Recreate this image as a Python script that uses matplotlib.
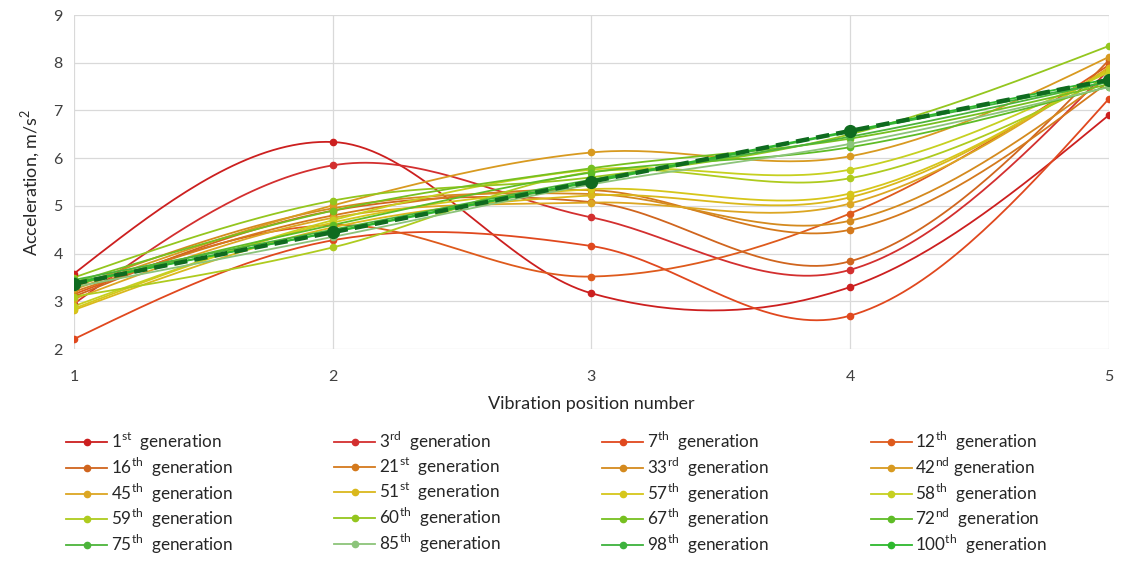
import matplotlib
matplotlib.use("Agg")
import matplotlib.pyplot as plt
from matplotlib.lines import Line2D
import numpy as np

plt.rcParams["font.family"] = ["Lato", "DejaVu Sans"]
plt.rcParams["mathtext.fontset"] = "custom"
plt.rcParams["mathtext.rm"] = "Lato"

# ── data ──────────────────────────────────────────────────────────────────
positions = [1, 2, 3, 4, 5]

labels = [
    "1$^{\\mathrm{st}}$  generation", "3$^{\\mathrm{rd}}$  generation",
    "7$^{\\mathrm{th}}$  generation", "12$^{\\mathrm{th}}$  generation",
    "16$^{\\mathrm{th}}$  generation", "21$^{\\mathrm{st}}$  generation",
    "33$^{\\mathrm{rd}}$  generation", "42$^{\\mathrm{nd}}$ generation",
    "45$^{\\mathrm{th}}$  generation", "51$^{\\mathrm{st}}$  generation",
    "57$^{\\mathrm{th}}$  generation", "58$^{\\mathrm{th}}$  generation",
    "59$^{\\mathrm{th}}$  generation", "60$^{\\mathrm{th}}$  generation",
    "67$^{\\mathrm{th}}$  generation", "72$^{\\mathrm{nd}}$  generation",
    "75$^{\\mathrm{th}}$  generation", "85$^{\\mathrm{th}}$  generation",
    "98$^{\\mathrm{th}}$  generation", "100$^{\\mathrm{th}}$  generation",
]

gen_1 = [3.58, 6.34, 3.17, 3.30, 6.90]
gen_3 = [2.95, 5.85, 4.76, 3.66, 7.85]
gen_7 = [2.21, 4.28, 4.16, 2.70, 7.24]
gen_12 = [3.15, 4.60, 3.52, 4.84, 7.95]
gen_16 = [3.10, 4.90, 5.08, 3.84, 8.05]
gen_21 = [3.20, 4.80, 5.33, 4.50, 7.60]
gen_33 = [3.30, 4.95, 5.25, 4.69, 7.70]
gen_42 = [3.25, 5.01, 6.12, 6.04, 8.12]
gen_45 = [3.05, 4.75, 5.07, 5.05, 7.90]
gen_51 = [2.82, 4.55, 5.22, 5.18, 7.88]
gen_57 = [2.85, 4.65, 5.35, 5.26, 7.85]
gen_58 = [2.90, 4.70, 5.76, 5.76, 7.80]
gen_59 = [3.10, 4.13, 5.71, 5.58, 7.70]
gen_60 = [3.50, 5.11, 5.60, 6.50, 8.35]
gen_67 = [3.40, 4.90, 5.79, 6.41, 7.55]
gen_72 = [3.35, 4.60, 5.70, 6.23, 7.50]
gen_75 = [3.45, 4.50, 5.55, 6.45, 7.60]
gen_85 = [3.30, 4.35, 5.45, 6.30, 7.49]
gen_98 = [3.40, 4.45, 5.50, 6.55, 7.60]
gen_100 = [3.38, 4.46, 5.52, 6.57, 7.66]
best = [3.37, 4.45, 5.51, 6.57, 7.64]

series = [gen_1, gen_3, gen_7, gen_12, gen_16, gen_21, gen_33, gen_42, gen_45,
          gen_51, gen_57, gen_58, gen_59, gen_60, gen_67, gen_72, gen_75,
          gen_85, gen_98, gen_100]

colors = ["#CC1F1F", "#D32F2F", "#E0481E", "#DE5A1C", "#D0651E", "#D4791C",
          "#D48A1E", "#D89A20", "#DCA622", "#DAB81C", "#D6C61A", "#C6D020",
          "#AECB1E", "#94C61E", "#76C020", "#5EBC26", "#4CB43A", "#8CC47A",
          "#3DB23D", "#2DB82D"]


def smooth(x, y, n=40):
    # cubic Hermite through points, Catmull-Rom tangents, natural ends
    x = np.asarray(x, float)
    y = np.asarray(y, float)
    m = np.zeros_like(y)
    m[1:-1] = (y[2:] - y[:-2]) / 2
    m[0] = (3 * (y[1] - y[0]) - m[1]) / 2
    m[-1] = (3 * (y[-1] - y[-2]) - m[-2]) / 2
    xs, ys = [], []
    for i in range(len(x) - 1):
        t = np.linspace(0, 1, n)
        h00 = 2*t**3 - 3*t**2 + 1
        h10 = t**3 - 2*t**2 + t
        h01 = -2*t**3 + 3*t**2
        h11 = t**3 - t**2
        xs.append(x[i] + t * (x[i+1] - x[i]))
        ys.append(h00*y[i] + h10*m[i] + h01*y[i+1] + h11*m[i+1])
    return np.concatenate(xs), np.concatenate(ys)


fig = plt.figure(figsize=(11.29, 5.78), dpi=100)
ax = fig.add_axes([0.0655, 0.396, 0.9165, 0.578])

handles = []
for vals, c, lbl in zip(series, colors, labels):
    sx, sy = smooth(positions, vals)
    ax.plot(sx, sy, color=c, lw=1.3, zorder=3)
    ax.plot(positions, vals, "o", color=c, ms=4.5, zorder=4)
    handles.append(Line2D([], [], color=c, lw=1.3, marker="o", ms=4.5, label=lbl))

sx, sy = smooth(positions, best)
ax.plot(sx, sy, color="#0F6B1F", lw=3.2, ls=(0, (3, 1.6)), zorder=6)
ax.plot(positions, best, "o", color="#0F6B1F", ms=8.5, zorder=7)

ax.set_xlim(1, 5)
ax.set_ylim(2, 9)
ax.set_xticks(positions)
ax.set_yticks(range(2, 10))
ax.grid(True, color="#D9D9D9", lw=0.9)
ax.set_axisbelow(True)
for s in ax.spines.values():
    s.set_visible(False)
ax.tick_params(length=0, labelsize=11.5, colors="#404040")
ax.tick_params(axis="x", pad=15)
ax.tick_params(axis="y", pad=8)
ax.set_xlabel("Vibration position number", fontsize=13, color="#262626", labelpad=9)
ax.set_ylabel("Acceleration, m/s$^2$", fontsize=13, color="#262626", labelpad=8)

# legend filled row by row like the original
order = [r * 4 + c for c in range(4) for r in range(5)]
leg = fig.legend([handles[i] for i in order], [labels[i] for i in order],
                 ncol=4, loc="upper left", bbox_to_anchor=(0.045, 0.283),
                 frameon=False, fontsize=12.3, handlelength=2.4,
                 handletextpad=0.2, columnspacing=5.95, labelspacing=0.16)
for t in leg.get_texts():
    t.set_color("#262626")

fig.savefig("out.png", dpi=100, facecolor="white")
